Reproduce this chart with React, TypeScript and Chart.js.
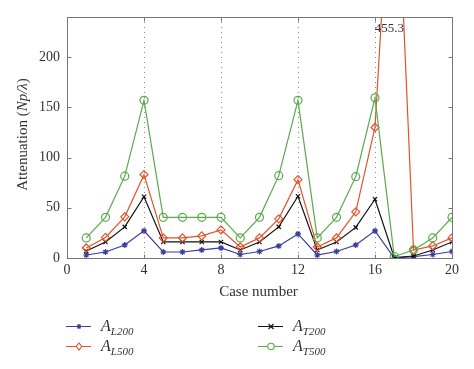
import React, { useEffect, useRef } from "react";
import { Chart, registerables } from "chart.js";

Chart.register(...registerables);

const cases = [1, 2, 3, 4, 5, 6, 7, 8, 9, 10, 11, 12, 13, 14, 15, 16, 17, 18, 19, 20];
const AL200 = [3, 6, 13, 27, 6, 6, 8, 10, 3.5, 6.5, 12, 24, 3, 6.5, 13, 27, 0, 1.3, 3.5, 6.5];
const AL500 = [10, 20.5, 41, 83, 20, 20, 22, 28, 11, 20, 39, 78, 11, 20, 46, 130, 455.3, 8, 12, 20];
const AT200 = [7, 16, 31, 61, 16, 16, 16, 16, 8, 16, 31, 61.5, 8, 16, 30.5, 58.5, 0.5, 2, 8, 16];
const AT500 = [20, 40.5, 81.5, 157, 40.5, 40.5, 40.5, 40.5, 20, 40.5, 82, 157, 20, 40.5, 81, 159.5, 1.5, 8, 20, 40.5];
const xTicks = [0, 4, 8, 12, 16, 20];
const yTicks = [0, 50, 100, 150, 200];
const dottedAt = [4, 8, 12, 16];
const peakLabel = "455.3";

const SERIF = '"Liberation Serif", "DejaVu Serif", serif';
const BLUE = "#3c3c9c";
const ORANGE = "#e0532c";
const BLACK = "#111111";
const GREEN = "#5aaa4c";
const AXIS = "#777777";

const legendItems = [
  { sub: "L200", color: BLUE, style: "star", radius: 2.5, fill: BLUE },
  { sub: "L500", color: ORANGE, style: "rectRot", radius: 3.5, fill: "#ffffff" },
  { sub: "T200", color: BLACK, style: "crossRot", radius: 2.5, fill: BLACK },
  { sub: "T500", color: GREEN, style: "circle", radius: 3.2, fill: "#ffffff" },
];

function drawMarker(ctx: CanvasRenderingContext2D, style: string, r: number, cx: number, cy: number, color: string, fill: string) {
  ctx.save();
  ctx.strokeStyle = color;
  ctx.fillStyle = fill;
  ctx.lineWidth = 1.1;
  ctx.beginPath();
  if (style === "circle") {
    ctx.arc(cx, cy, r, 0, Math.PI * 2);
    ctx.fill();
    ctx.stroke();
  } else if (style === "rectRot") {
    ctx.moveTo(cx, cy - r);
    ctx.lineTo(cx + r * 0.8, cy);
    ctx.lineTo(cx, cy + r);
    ctx.lineTo(cx - r * 0.8, cy);
    ctx.closePath();
    ctx.fill();
    ctx.stroke();
  } else if (style === "crossRot") {
    ctx.moveTo(cx - r, cy - r);
    ctx.lineTo(cx + r, cy + r);
    ctx.moveTo(cx + r, cy - r);
    ctx.lineTo(cx - r, cy + r);
    ctx.stroke();
  } else {
    ctx.arc(cx, cy, r * 0.8, 0, Math.PI * 2);
    ctx.fill();
    ctx.beginPath();
    for (let k = 0; k < 3; k++) {
      const a = (k * Math.PI) / 3;
      ctx.moveTo(cx - r * Math.cos(a), cy - r * Math.sin(a));
      ctx.lineTo(cx + r * Math.cos(a), cy + r * Math.sin(a));
    }
    ctx.stroke();
  }
  ctx.restore();
}

const decorPlugin = {
  id: "decor",
  beforeDatasetsDraw(chart: any) {
    const { ctx, chartArea, scales } = chart;
    const x = scales.x;
    ctx.save();
    ctx.strokeStyle = "#8a8a8a";
    ctx.lineWidth = 1;
    ctx.setLineDash([1, 4]);
    for (const v of dottedAt) {
      const px = Math.round(x.getPixelForValue(v)) + 0.5;
      ctx.beginPath();
      ctx.moveTo(px, chartArea.top);
      ctx.lineTo(px, chartArea.bottom);
      ctx.stroke();
    }
    ctx.restore();
  },
  afterDraw(chart: any) {
    const { ctx, chartArea, scales } = chart;
    const x = scales.x;
    const y = scales.y;
    const L = Math.round(chartArea.left) + 0.5;
    const R = Math.round(chartArea.right) + 0.5;
    const T = Math.round(chartArea.top) + 0.5;
    const B = Math.round(chartArea.bottom) + 0.5;
    ctx.save();
    ctx.strokeStyle = AXIS;
    ctx.lineWidth = 1;
    ctx.setLineDash([]);
    ctx.strokeRect(L, T, R - L, B - T);
    const tl = 4;
    for (const v of xTicks) {
      const px = Math.round(x.getPixelForValue(v)) + 0.5;
      ctx.beginPath();
      ctx.moveTo(px, B);
      ctx.lineTo(px, B - tl);
      ctx.moveTo(px, T);
      ctx.lineTo(px, T + tl);
      ctx.stroke();
    }
    for (const v of yTicks) {
      const py = Math.round(y.getPixelForValue(v)) + 0.5;
      ctx.beginPath();
      ctx.moveTo(L, py);
      ctx.lineTo(L + tl, py);
      ctx.moveTo(R, py);
      ctx.lineTo(R - tl, py);
      ctx.stroke();
    }

    // peak label
    ctx.fillStyle = "#333333";
    ctx.font = `13px ${SERIF}`;
    ctx.textAlign = "center";
    ctx.textBaseline = "middle";
    ctx.fillText(peakLabel, x.getPixelForValue(16.75), T + 11);

    // x title
    ctx.font = `15px ${SERIF}`;
    ctx.fillStyle = "#333333";
    ctx.fillText("Case number", (chartArea.left + chartArea.right) / 2 - 1, 292);

    // y title with italic part
    ctx.save();
    ctx.translate(23, (chartArea.top + chartArea.bottom) / 2 - 3);
    ctx.rotate(-Math.PI / 2);
    const parts = [
      { t: "Attenuation (", f: `15px ${SERIF}` },
      { t: "Np/\u03bb", f: `italic 15px ${SERIF}` },
      { t: ")", f: `15px ${SERIF}` },
    ];
    let total = 0;
    for (const p of parts) {
      ctx.font = p.f;
      total += ctx.measureText(p.t).width;
    }
    let cx = -total / 2;
    ctx.textAlign = "left";
    for (const p of parts) {
      ctx.font = p.f;
      ctx.fillText(p.t, cx, 0);
      cx += ctx.measureText(p.t).width;
    }
    ctx.restore();

    // legend
    const pos = [
      { lx: 66, y: 326 },
      { lx: 66, y: 346 },
      { lx: 258, y: 326 },
      { lx: 258, y: 346 },
    ];
    legendItems.forEach((it, i) => {
      const p = pos[i];
      ctx.strokeStyle = it.color;
      ctx.lineWidth = 1;
      ctx.beginPath();
      ctx.moveTo(p.lx, p.y + 0.5);
      ctx.lineTo(p.lx + 25, p.y + 0.5);
      ctx.stroke();
      drawMarker(ctx, it.style, it.radius, p.lx + 13, p.y + 0.5, it.color, it.fill);
      ctx.fillStyle = "#333333";
      ctx.textAlign = "left";
      ctx.textBaseline = "alphabetic";
      ctx.font = `italic 16px ${SERIF}`;
      ctx.fillText("A", p.lx + 35, p.y + 5);
      const aw = ctx.measureText("A").width;
      ctx.font = `italic 11px ${SERIF}`;
      ctx.fillText(it.sub, p.lx + 35 + aw, p.y + 9);
    });
    ctx.restore();
  },
};

function mk(data: number[], color: string, style: string, radius: number, fill: string) {
  return {
    data: cases.map((c, i) => ({ x: c, y: data[i] })),
    borderColor: color,
    backgroundColor: fill,
    borderWidth: 1.2,
    pointStyle: style,
    pointRadius: radius,
    pointBorderColor: color,
    pointBackgroundColor: fill,
    pointBorderWidth: 1.2,
    tension: 0,
    fill: false,
  };
}

export default function App() {
  const ref = useRef<HTMLCanvasElement>(null);
  useEffect(() => {
    document.body.style.margin = "0";
    const chart = new Chart(ref.current!, {
      type: "line",
      data: {
        datasets: [
          mk(AT500, GREEN, "circle", 4, "rgba(255,255,255,0)"),
          mk(AL500, ORANGE, "rectRot", 4, "rgba(255,255,255,0)"),
          mk(AT200, BLACK, "crossRot", 3, BLACK),
          mk(AL200, BLUE, "star", 3, BLUE),
        ] as any,
      },
      options: {
        animation: false,
        responsive: false,
        maintainAspectRatio: false,
        layout: { padding: { top: 17, right: 22, left: 0, bottom: 0 } },
        plugins: { legend: { display: false }, tooltip: { enabled: false } },
        scales: {
          x: {
            type: "linear",
            min: 0,
            max: 20,
            afterBuildTicks: (s: any) => {
              s.ticks = xTicks.map((v) => ({ value: v }));
            },
            afterFit: (s: any) => {
              s.height = 111;
            },
            grid: { display: false, drawTicks: false },
            border: { display: false },
            ticks: {
              padding: 4,
              color: "#333333",
              font: { family: SERIF, size: 14 },
              maxRotation: 0,
            },
          },
          y: {
            type: "linear",
            min: 0,
            max: 240,
            afterBuildTicks: (s: any) => {
              s.ticks = yTicks.map((v) => ({ value: v }));
            },
            afterFit: (s: any) => {
              s.width = 67;
            },
            grid: { display: false, drawTicks: false },
            border: { display: false },
            ticks: {
              padding: 7,
              color: "#333333",
              font: { family: SERIF, size: 14 },
            },
          },
        },
      } as any,
      plugins: [decorPlugin],
    });
    return () => chart.destroy();
  }, []);
  return (
    <div style={{ position: "fixed", left: 0, top: 0, width: 474, height: 369, background: "#fff" }}>
      <canvas ref={ref} width={474} height={369} style={{ width: 474, height: 369 }} />
    </div>
  );
}
